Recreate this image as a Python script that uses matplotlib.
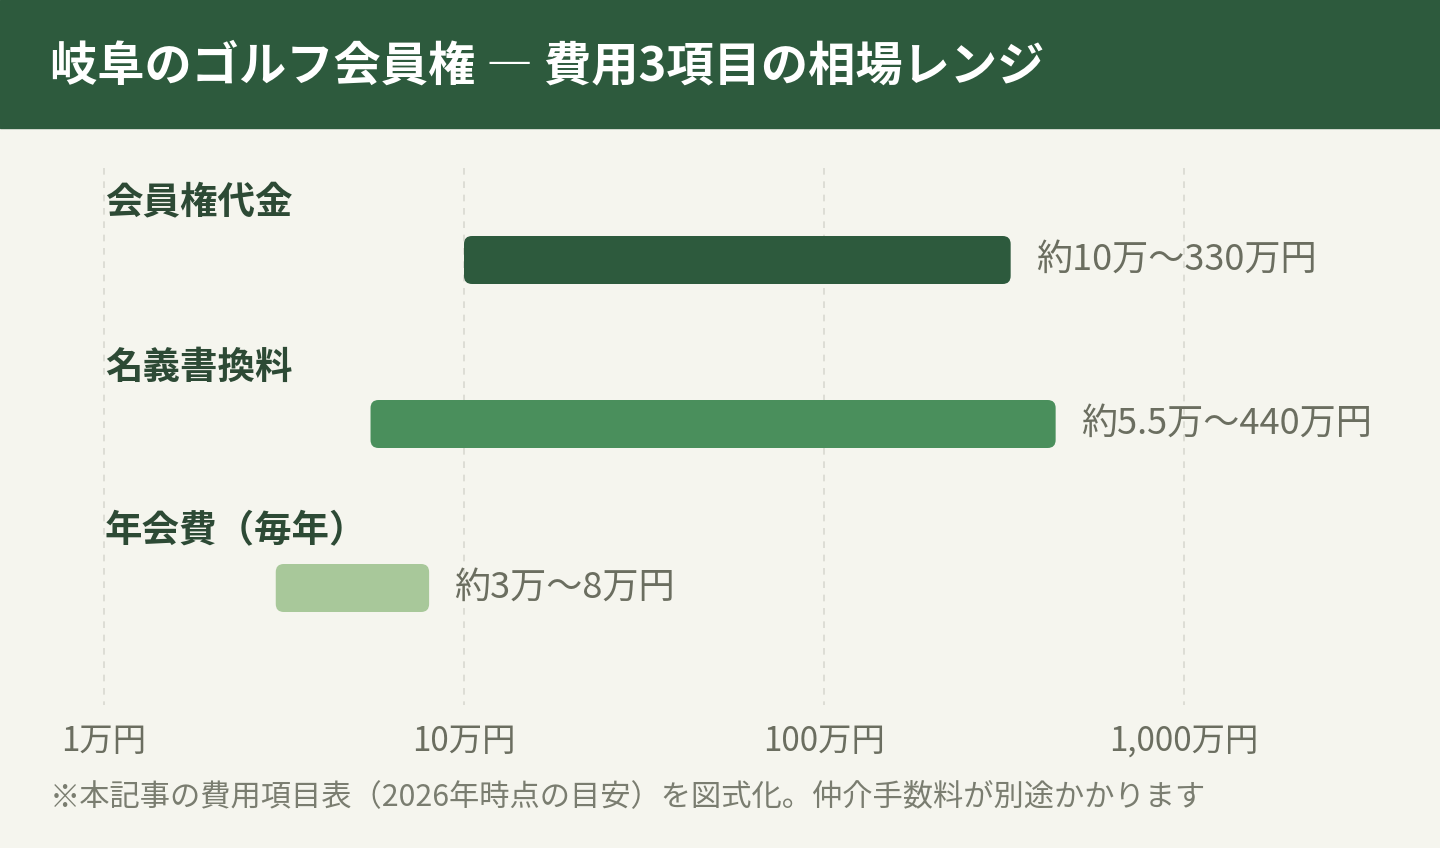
import matplotlib
matplotlib.use("Agg")
import matplotlib.pyplot as plt
from matplotlib.patches import FancyBboxPatch, Rectangle
from matplotlib.transforms import IdentityTransform
import numpy as np

plt.rcParams['font.family'] = ['Noto Sans CJK JP', 'DejaVu Sans']

title = "岐阜のゴルフ会員権 ― 費用3項目の相場レンジ"
categories = ["会員権代金", "名義書換料", "年会費（毎年）"]
lows = [10, 5.5, 3]
highs = [330, 440, 8]
value_labels = ["約10万〜330万円", "約5.5万〜440万円", "約3万〜8万円"]
ticks = [1, 10, 100, 1000]
tick_labels = ["1万円", "10万円", "100万円", "1,000万円"]
note = "※本記事の費用項目表（2026年時点の目安）を図式化。仲介手数料が別途かかります"
colors = ["#2d5a3d", "#4a8f5c", "#a8c89a"]

W, H = 1440, 848
fig = plt.figure(figsize=(W/100, H/100), dpi=100)
fig.patch.set_facecolor("#f5f5ee")
ax = fig.add_axes([0, 0, 1, 1])
ax.set_xscale("log")
ax.set_xlim(10**(-104/360), 10**(1336/360))
ax.set_ylim(H, 0)
ax.axis("off")

fig.patches.append(Rectangle((0, H-128), W, 128, transform=IdentityTransform(), color="#2d5a3d", zorder=0))
fig.text(50/W, 1-66/H, title, color="white", fontsize=34, fontweight="bold", va="center", ha="left")

for t, lab in zip(ticks, tick_labels):
    ax.plot([t, t], [168, 705], ls=(0, (4, 4)), color="#d9d9d0", lw=1.2, zorder=1)
    ax.text(t, 741, lab, ha="center", va="center", fontsize=24, color="#6b6e60")

bar_centers = [260, 424, 588]
label_ys = [202, 367, 531]
fig.canvas.draw()
for i, cat in enumerate(categories):
    ax.text(10**(1/360), label_ys[i], cat, fontsize=27, fontweight="bold", color="#2d4a35", va="center", ha="left")
    x0, y0 = ax.transData.transform((lows[i], bar_centers[i] + 24))
    x1, y1 = ax.transData.transform((highs[i], bar_centers[i] - 24))
    p = FancyBboxPatch((x0 + 8, y0 + 8), x1 - x0 - 16, y1 - y0 - 16,
                       boxstyle="round,pad=8", transform=IdentityTransform(),
                       facecolor=colors[i], edgecolor="none", zorder=3)
    fig.patches.append(p)
    ax.text(highs[i] * 10**(25/360), bar_centers[i], value_labels[i], fontsize=26,
            color="#6b6e60", va="center", ha="left")

fig.text(50/W, 1-797/H, note, fontsize=21.8, color="#7a7d70", va="center", ha="left")
fig.savefig("out.png", dpi=100, facecolor=fig.get_facecolor())
